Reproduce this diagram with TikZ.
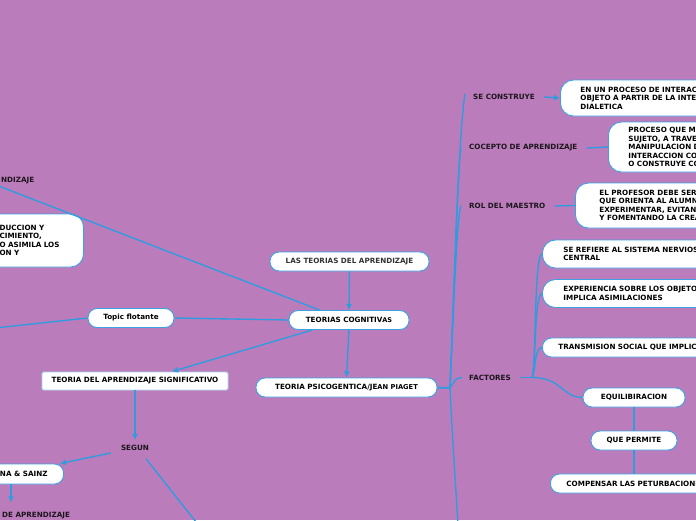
\documentclass[tikz,border=0pt]{standalone}
\usepackage{fontspec}
\setmainfont{DejaVu Sans}
\usetikzlibrary{arrows.meta,calc}
\definecolor{bgc}{HTML}{BB7CBB}
\definecolor{ln}{HTML}{2E9CE0}
\definecolor{bd}{HTML}{3DA2E2}
\definecolor{tx}{HTML}{1C161C}
\definecolor{txg}{HTML}{333333}
\newcommand{\fs}{\fontsize{7.2}{8.4}\selectfont\bfseries}
\begin{document}
\begin{tikzpicture}[x=1pt,y=-1pt,
  box/.style={draw=bd, line width=0.9pt, fill=white, rounded corners=9pt, font=\fs, text=black, minimum height=19pt, inner sep=0pt},
  bigbox/.style={box, rounded corners=13pt, align=left},
  lab/.style={font=\fs, text=tx, inner sep=1pt},
  conn/.style={draw=ln, line width=1.35pt},
  arr/.style={conn, -{Latex[length=6pt,width=6pt]}},
]
\fill[bgc] (0,0) rectangle (696,520);
\useasboundingbox (0,0) rectangle (696,520);
\clip (0,0) rectangle (696,520);

% left / centre nodes
\node[box, minimum width=159pt, text=txg] (las) at (349.5,261.5) {LAS TEORIAS DEL APRENDIZAJE};
\node[box, minimum width=120pt] (cog) at (349,320) {TEORIAS COGNITIV{\fontsize{6.5}{7}\selectfont AS}};
\node[box, minimum width=181pt] (psi) at (346.5,387.5) {TEORIA PSICOGENTICA/JE{\fontsize{6.7}{7}\selectfont AN PIAGET}};
\node[box, minimum width=86pt] (topic) at (131,318) {Topic flotante};
\node[box, rounded corners=1.5pt, minimum width=186pt, minimum height=18pt, draw=bd!45!white] (sig) at (135,381) {TEORIA DEL APRENDIZAJE SIGNIFICATIVO};
\node[lab] (segun) at (135,448) {SEGUN};
\node[box, anchor=east, inner xsep=16pt, minimum height=20pt] (ena) at (64,474) {ENA \& SAINZ};
\node[lab, anchor=west] (deap) at (1,516) {DE APRENDIZAJE};
\node[lab, anchor=west] (ndiz) at (0,181) {NDIZAJE};
\node[bigbox, anchor=east, text width=70pt, inner xsep=14pt, minimum height=53pt] (intro) at (84,240.5) {DUCCION Y\\CIMIENTO,\\O ASIMILA LOS\\ON Y};

% right side
\node[lab, anchor=west] (sc) at (472,97) {SE CONSTRUYE};
\node[bigbox, anchor=west, text width=200pt, inner xsep=20pt, minimum height=36pt] (b1) at (560,98) {EN UN PROCESO DE INTERACC\\OBJETO A PARTIR DE LA INTE\\DIALETICA};
\node[lab, anchor=west] (coc) at (468,148) {COCEPTO DE APRENDIZAJE};
\node[bigbox, anchor=west, text width=200pt, inner xsep=20pt, minimum height=50pt] (b2) at (608,147) {PROCESO QUE ME\\SUJETO, A TRAVE\\MANIPULACION D\\INTERACCION CO\\O CONSTRUYE CO};
\node[lab, anchor=west] (rol) at (468,206) {ROL DEL MAESTRO};
\node[bigbox, anchor=west, text width=200pt, inner xsep=24pt, minimum height=45pt] (b3) at (575,205.5) {EL PROFESOR DEBE SER\\QUE ORIENTA AL ALUMN\\EXPERIMENTAR, EVITAN\\Y FOMENTANDO LA CREA};
\node[lab, anchor=west] (fac) at (468,377.5) {FACTORES};
\node[bigbox, anchor=west, text width=200pt, inner xsep=21pt, minimum height=28pt] (f1) at (542,254) {SE REFIERE AL SISTEMA NERVIOS\\CENTRAL};
\node[bigbox, anchor=west, text width=200pt, inner xsep=21pt, minimum height=28pt] (f2) at (542,293.5) {EXPERIENCIA SOBRE LOS OBJETO\\IMPLICA ASIMILACIONES};
\node[box, anchor=west, text width=200pt, align=left, inner xsep=16pt] (f3) at (542,347.5) {TRANSMISION SOCIAL QUE IMPLIC};
\node[box, minimum width=102pt] (equi) at (634,397.5) {EQUILIBIRACION};
\node[box, minimum width=86pt] (qp) at (634,440.5) {QUE PERMITE};
\node[box, anchor=west, text width=200pt, align=left, inner xsep=16pt] (comp) at (550,483.5) {COMPENSAR LAS PETURBACIONE};

% free ends
\coordinate (lt) at (-5,328);
\coordinate (so) at (200,527);
\coordinate (j) at (450,388);
\coordinate (k) at (532,377.5);
\coordinate (dn) at (458,526);

% connectors, left / centre
\draw[arr] (las) -- (cog);
\draw[arr] (cog.south) -- (psi.north);
\draw[arr] ($(cog.south west)+(24,0)$) -- ($(sig.north)+(37,0)$);
\draw[conn] (cog.west) -- (topic.east);
\draw[conn] (topic.west) -- (lt);
\draw[conn] ($(ndiz.south west)+(0,1)$) -- ($(cog.north west)+(31,0)$);
\draw[arr, shorten >=4pt] (sig) -- (segun);
\draw[arr] ($(segun.west)+(-9,5)$) -- ($(ena.north east)+(-4,0)$);
\draw[arr] ($(ena.south east)+(-53,0)$) -- ($(deap.north west)+(10,-9)$);
\draw[conn] ($(segun.south east)+(-4,7)$) -- (so);

% right tree
\draw[conn, line width=1.8pt] (psi.east) -- (j);
\draw[conn] (j) .. controls (456,250) and (459,130) .. ($(sc.west)+(-7,-3)$);
\draw[conn] (j) .. controls (455,260) and (458,160) .. ($(coc.west)+(-7,0)$);
\draw[conn] (j) .. controls (454,300) and (457,215) .. ($(rol.west)+(-7,0)$);
\draw[conn] (j) .. controls (455,380) and (456,377.5) .. ($(fac.west)+(-6,0)$);
\draw[conn] (j) .. controls (453,450) and (456,490) .. (dn);

\draw[arr] ($(sc.east)+(8,0)$) -- (b1.west);
\draw[conn] ($(coc.east)+(8,0)$) -- (b2.west);
\draw[conn] ($(rol.east)+(8,0)$) -- (b3.west);
\draw[conn] ($(fac.east)+(8,0)$) -- (k);
\draw[conn] (k) .. controls (536,372) and (534,254) .. (f1.west);
\draw[conn] (k) .. controls (536,372) and (534,293.5) .. (f2.west);
\draw[conn] (k) .. controls (536,372) and (534,347.5) .. (f3.west);
\draw[conn] (k) .. controls (562,377.5) and (562,397.5) .. (equi.west);
\draw[conn] (equi) -- (qp);
\draw[conn] (qp.south) -- (qp.south |- comp.north);
\end{tikzpicture}
\end{document}
